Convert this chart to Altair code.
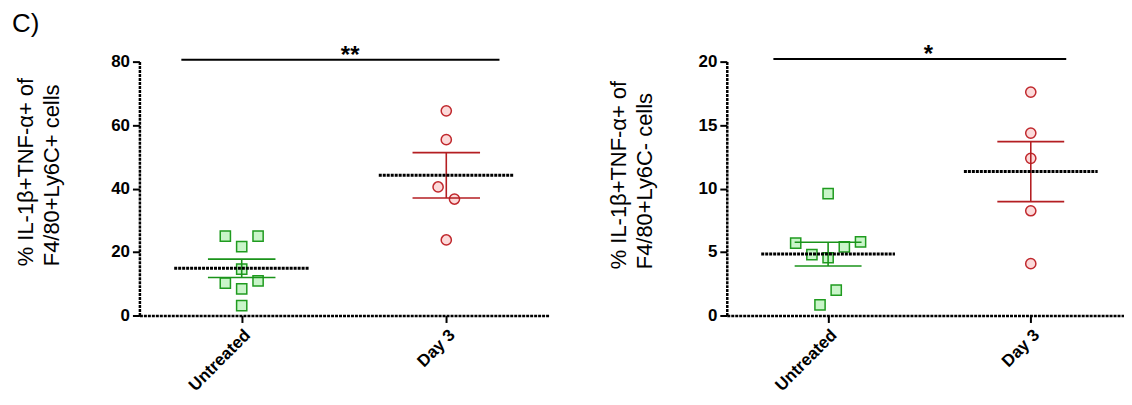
import altair as alt
import pandas as pd

# ---------------- data ----------------
groups = ["Untreated", "Day 3"]
group_pos = [1, 3]
x_labels_expr = "datum.value == 1 ? 'Untreated' : 'Day 3'"

# Panel 1: % IL-1b+TNF-a+ of F4/80+Ly6C+ cells
p1_untreated = [25.0, 25.0, 21.7, 14.6, 10.2, 10.9, 8.4, 3.1]
p1_untreated_jit = [-2, 2, 0, 0, -2, 2, 0, 0]
p1_day3 = [64.5, 55.4, 40.5, 36.7, 23.8]
p1_day3_jit = [0, 0, -1, 1, 0]
p1_yticks = [0, 20, 40, 60, 80]
p1_title = ["% IL-1β+TNF-α+ of", "F4/80+Ly6C+ cells"]
p1_sig = {"x1": [0.41], "x2": [3.52], "y": [80.6], "xs": [2.06], "label": ["**"]}

# Panel 2: % IL-1b+TNF-a+ of F4/80+Ly6C- cells
p2_untreated = [9.6, 5.7, 5.8, 4.8, 5.4, 4.55, 2.0, 0.84]
p2_untreated_jit = [0, -4, 4, -2, 2, 0, 1, -1]
p2_day3 = [17.6, 14.37, 12.38, 8.25, 4.08]
p2_day3_jit = [0, 0, 0, 0, 0]
p2_yticks = [0, 5, 10, 15, 20]
p2_title = ["% IL-1β+TNF-α+ of", "F4/80+Ly6C- cells"]
p2_sig = {"x1": [0.46], "x2": [3.35], "y": [20.2], "xs": [1.99], "label": ["*"]}

# ---------------- style ----------------
FONT = "Liberation Sans"
STROKE = ["#1f9b1f", "#c0282d"]
FILL = ["#c9f5c9", "#fcdada"]
BAR = ["#1a931a", "#b41e22"]
SHAPES = ["square", "circle"]
JIT = 0.08
MEAN_HALF = 0.66
CAP_HALF = 0.33


def panel(unt, unt_j, d3, d3_j, ymax, yticks, title, title_x, title_y,
          sig, width, xmax):
    pts = pd.DataFrame({
        "group": [groups[0]] * len(unt) + [groups[1]] * len(d3),
        "pos": [group_pos[0]] * len(unt) + [group_pos[1]] * len(d3),
        "jit": unt_j + d3_j,
        "value": unt + d3,
    })
    sig_df = pd.DataFrame(sig)

    xscale = alt.Scale(domain=[0, xmax], nice=False, zero=False)
    yscale = alt.Scale(domain=[0, ymax], nice=False)

    common_axis = dict(
        domainColor="black", domainWidth=2.5, domainDash=[3, 1],
        tickColor="black", tickWidth=2, tickSize=7,
        labelFont=FONT, labelFontWeight="bold", labelColor="black",
        grid=False,
    )
    xaxis = alt.Axis(values=group_pos, labelExpr=x_labels_expr, labelAngle=-45,
                     labelAlign="right", labelBaseline="top", labelFontSize=17,
                     labelPadding=4, title=None, labelOverlap=False,
                     labelFlush=False, **common_axis)
    yaxis = alt.Axis(values=yticks, labelFontSize=17, labelPadding=3,
                     title=title, titleFont=FONT, titleFontSize=22,
                     titleFontWeight="normal", titleColor="black",
                     titleAngle=270, titleAlign="left", titleBaseline="top",
                     titleLineHeight=26, titleX=title_x, titleY=title_y,
                     **common_axis)

    stroke_scale = alt.Scale(domain=groups, range=STROKE)
    fill_scale = alt.Scale(domain=groups, range=FILL)
    bar_scale = alt.Scale(domain=groups, range=BAR)
    shape_scale = alt.Scale(domain=groups, range=SHAPES)

    base = alt.Chart(pts)

    points = base.transform_calculate(
        xp=f"datum.pos + datum.jit * {JIT}"
    ).mark_point(filled=False, size=105, strokeWidth=1.5, opacity=1).encode(
        x=alt.X("xp:Q", scale=xscale, axis=xaxis),
        y=alt.Y("value:Q", scale=yscale, axis=yaxis),
        shape=alt.Shape("group:N", scale=shape_scale, legend=None),
        stroke=alt.Stroke("group:N", scale=stroke_scale, legend=None),
        fill=alt.Fill("group:N", scale=fill_scale, legend=None),
    )

    agg = base.transform_aggregate(
        mean="mean(value)", se="stderr(value)", groupby=["group", "pos"]
    ).transform_calculate(
        lo="datum.mean - datum.se", hi="datum.mean + datum.se",
        m1=f"datum.pos - {MEAN_HALF}", m2=f"datum.pos + {MEAN_HALF}",
        c1=f"datum.pos - {CAP_HALF}", c2=f"datum.pos + {CAP_HALF}",
    )
    col = alt.Color("group:N", scale=bar_scale, legend=None)

    vbar = agg.mark_rule(strokeWidth=1.6).encode(
        x=alt.X("pos:Q", scale=xscale, axis=xaxis),
        y=alt.Y("lo:Q", scale=yscale, axis=yaxis), y2="hi:Q", color=col)
    cap_hi = agg.mark_rule(strokeWidth=1.6).encode(
        x=alt.X("c1:Q", scale=xscale, axis=xaxis), x2="c2:Q",
        y=alt.Y("hi:Q", scale=yscale, axis=yaxis), color=col)
    cap_lo = agg.mark_rule(strokeWidth=1.6).encode(
        x=alt.X("c1:Q", scale=xscale, axis=xaxis), x2="c2:Q",
        y=alt.Y("lo:Q", scale=yscale, axis=yaxis), color=col)
    mean_line = agg.mark_rule(strokeWidth=3, strokeDash=[3, 1], color="black").encode(
        x=alt.X("m1:Q", scale=xscale, axis=xaxis), x2="m2:Q",
        y=alt.Y("mean:Q", scale=yscale, axis=yaxis))

    sig_base = alt.Chart(sig_df)
    sig_rule = sig_base.mark_rule(strokeWidth=2, color="black", clip=False).encode(
        x=alt.X("x1:Q", scale=xscale, axis=xaxis), x2="x2:Q",
        y=alt.Y("y:Q", scale=yscale, axis=yaxis))
    sig_text = sig_base.mark_text(font=FONT, fontSize=24, fontWeight="bold",
                                  baseline="alphabetic", align="center", dy=3,
                                  color="black", clip=False).encode(
        x=alt.X("xs:Q", scale=xscale, axis=xaxis),
        y=alt.Y("y:Q", scale=yscale, axis=yaxis),
        text="label:N")

    return alt.layer(points, vbar, cap_hi, cap_lo, mean_line, sig_rule, sig_text
                     ).properties(width=width, height=255)


left = panel(p1_untreated, p1_untreated_jit, p1_day3, p1_day3_jit, 80, p1_yticks,
             p1_title, -124, 205, p1_sig, 411, 4.0)
right = panel(p2_untreated, p2_untreated_jit, p2_day3, p2_day3_jit, 20, p2_yticks,
              p2_title, -119, 208, p2_sig, 399, 3.92)

chart = alt.hconcat(left, right, spacing=59).properties(
    title=alt.TitleParams("C)", anchor="start", font=FONT, fontSize=26,
                          fontWeight="normal", color="black", offset=6, dx=-3),
    padding={"left": 4, "top": 2, "right": 0, "bottom": 0},
).configure_view(stroke=None)

chart.save("out.html", embed_options={"renderer": "svg", "actions": False})
